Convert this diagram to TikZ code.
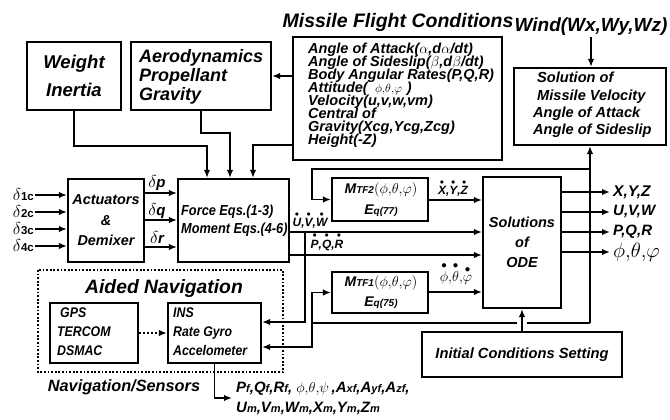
\documentclass[tikz,border=0pt]{standalone}
\usepackage{fontspec}
\usepackage{amsmath}
\setmainfont{Liberation Sans}
\newfontfamily\narrowf[FakeStretch=0.88]{Liberation Sans}
\usetikzlibrary{arrows.meta,calc}
\newcommand\fsz[2]{\fontsize{#1}{#2}\selectfont\lineskiplimit=-50pt\relax}
\newcommand\dotit[1]{$\overset{\bullet}{\text{#1}}$}
\newcommand\sm[1]{{\fontsize{11}{11}\selectfont #1}}
\newcommand\ptp{\phi{,}\theta{,}\varphi}
\begin{document}
\begin{tikzpicture}[x=1pt,y=-1pt,
  box/.style={draw,line width=2.2pt,rectangle,inner sep=0pt},
  conn/.style={line width=1.6pt},
  arr/.style={conn,-{Latex[length=8pt,width=6.5pt]}},
  lbl/.style={inner sep=1pt,font=\bfseries\itshape},
  txt/.style={inner sep=0pt,align=left,font=\bfseries\itshape}
]
\useasboundingbox[fill=white] (0,0) rectangle (670,420);

% ---------- boxes ----------
\node[box,minimum width=94pt,minimum height=68pt,align=center,font=\fsz{18.5}{28}\bfseries\itshape] (wi) at (74,76) {Weight\\Inertia};
\node[box,minimum width=140pt,minimum height=68pt] (aero) at (201,76) {};
\node[txt,anchor=north west,font=\fsz{18}{19}\bfseries\itshape] (aerot) at (139,49) {Aerodynamics\\Propellant\\Gravity};
\node[box,minimum width=209pt,minimum height=123pt] (mfc) at (397.5,98.5) {};
\node[txt,anchor=north west,font=\fsz{14.5}{12.9}\bfseries\itshape] (mfct) at (308,43) {Angle of Attack($\alpha$,d$\alpha$/dt)\\Angle of Sideslip($\beta$,d$\beta$/dt)\\Body Angular Rates(P,Q,R)\\Attitude(\,\,\,{\fontsize{11.5}{12.9}\selectfont$\ptp$}\,\,)\\Velocity(u,v,w,vm)\\Central of\\Gravity(Xcg,Ycg,Zcg)\\Height(-Z)};
\node[lbl,anchor=base,font=\fsz{19.5}{20}\bfseries\itshape] (mfctitle) at (398,28) {Missile Flight Conditions};
\node[lbl,anchor=base,font=\fsz{19}{20}\bfseries\itshape] (wind) at (591,32) {Wind(Wx,Wy,Wz)};
\node[box,minimum width=152pt,minimum height=77pt] (sol) at (590,106.5) {};
\node[txt,anchor=west,font=\fsz{14.6}{17.3}\bfseries\itshape] (solt) at (533,105) {\hspace*{4pt}Solution of\\\hspace*{4pt}Missile Velocity\\Angle of Attack\\Angle of Sideslip};

\node[box,minimum width=76pt,minimum height=83pt,align=center,font=\fsz{14.4}{20.5}\bfseries\itshape] (act) at (106,220.5) {Actuators\\\&\\Demixer};
\node[box,minimum width=111pt,minimum height=83pt] (force) at (233.5,220.5) {};
\node[txt,anchor=west,font=\fsz{14.5}{18}\narrowf\bfseries\itshape] (forcet) at (181,221) {Force Eqs.(1-3)\\Moment Eqs.(4-6)};

\node[box,minimum width=96pt,minimum height=43pt] (mtf2) at (380,199.5) {};
\node[lbl] (mtf2a) at (381,190) {\fsz{14}{16}M\fsz{10}{16}TF2\fsz{15}{16}$(\ptp)$};
\node[lbl] (mtf2b) at (381,211) {\fsz{14}{16}E\fsz{10}{16}q(77)};
\node[box,minimum width=96pt,minimum height=41pt] (mtf1) at (380,292.5) {};
\node[lbl] (mtf1a) at (381,283) {\fsz{14}{16}M\fsz{10}{16}TF1\fsz{15}{16}$(\ptp)$};
\node[lbl] (mtf1b) at (381,303) {\fsz{14}{16}E\fsz{10}{16}q(75)};

\node[box,minimum width=78pt,minimum height=131pt,align=center,font=\fsz{14.5}{20}\bfseries\itshape] (ode) at (522,242.5) {Solutions\\of\\ODE};
\node[box,minimum width=200pt,minimum height=45pt,font=\fsz{14.7}{16}\bfseries\itshape] (ic) at (522,354.5) {Initial Conditions Setting};

% ---------- aided navigation ----------
\draw[line width=1.5pt,dash pattern=on 1.8pt off 1.8pt] (38,270) rectangle (283,372);
\node[lbl,anchor=base,font=\fsz{19.3}{20}\bfseries\itshape] (navtitle) at (164,293) {Aided Navigation};
\node[box,minimum width=88pt,minimum height=60pt] (gps) at (94,333) {};
\node[txt,anchor=west,font=\fsz{14}{19}\narrowf\bfseries\itshape] (gpst) at (57,332) {\hspace*{3pt}GPS\\TERCOM\\DSMAC};
\node[box,minimum width=93pt,minimum height=60pt] (ins) at (214.5,333) {};
\node[txt,anchor=west,font=\fsz{14}{19}\narrowf\bfseries\itshape] (inst) at (173,332) {INS\\Rate Gyro\\Accelometer};
\node[lbl,anchor=base,font=\fsz{16.3}{18}\bfseries\itshape] (navsens) at (124,391) {Navigation/Sensors};
\node[txt,anchor=west,inner xsep=4pt,font=\fsz{15}{20}\bfseries\itshape] (navtext) at (232,398) {P\sm{f},Q\sm{f},R\sm{f}, $\phi{,}\theta{,}\psi$\,,A\sm{xf},A\sm{yf},A\sm{zf},\\U\sm{m},V\sm{m},W\sm{m},X\sm{m},Y\sm{m},Z\sm{m}};

% ---------- coordinates ----------
\coordinate (in1) at (35,195);
\coordinate (in2) at (35,212);
\coordinate (in3) at (35,229);
\coordinate (in4) at (35,246);
\coordinate (yp) at (0,193);
\coordinate (yq) at (0,220);
\coordinate (yr) at (0,247);
\coordinate (yuvw) at (0,232);
\coordinate (ypqr) at (0,255);
\coordinate (jUVW) at (305,232);
\coordinate (yXYZ) at (0,200);
\coordinate (yphi) at (0,292);
\coordinate (lpR) at (590,323);
\coordinate (lpL) at (312,323);
\coordinate (gapA) at (517,323);
\coordinate (gapB) at (527,323);
\coordinate (tpR) at (590,169);
\coordinate (tpL) at (312,169);

% ---------- inputs ----------
\foreach \i/\n in {in1/1,in2/2,in3/3,in4/4}{
  \draw[arr] (\i) -- (act.west |- \i);
  \node[anchor=east,inner sep=0pt] at ($(\i)+(-1,0)$) {\fsz{16.5}{16}$\delta$\fsz{11.5}{12}\bfseries\n c};
}
\draw[arr] (act.east |- yp) -- (force.west |- yp);
\draw[arr] (act.east |- yq) -- (force.west |- yq);
\draw[arr] (act.east |- yr) -- (force.west |- yr);
\node[lbl] at (157,183) {\fsz{18}{18}$\delta$\fsz{15}{16}p};
\node[lbl] at (157,211) {\fsz{18}{18}$\delta$\fsz{15}{16}q};
\node[lbl] at (157,237) {\fsz{18}{18}$\delta$\fsz{15}{16}r};

% ---------- top feeds ----------
\draw[arr] (wi.south) -- ++(0,35) -| ($(force.north)+(-26.5,0)$);
\draw[arr] (aero.south) -- ++(0,22) -| ($(force.north)+(-3.5,0)$);
\draw[arr] ($(mfc.west)+(0,46.5)$) -| ($(force.north)+(19.5,0)$);
\draw[arr] (mfc.west |- aero.east) -- (aero.east);
\draw[arr] (wind.south) -- (wind.south |- sol.north);

% ---------- force to ODE ----------
\draw[arr] (force.east |- yuvw) -- (ode.west |- yuvw);
\draw[arr] (force.east |- ypqr) -- (ode.west |- ypqr);
\node[lbl,font=\fsz{12}{12}\bfseries\itshape] at (310,220) {\dotit{U},\dotit{V},\dotit{W}};
\node[lbl,font=\fsz{12}{12}\bfseries\itshape] at (327,242) {\dotit{P},\dotit{Q},\dotit{R}};
\draw[arr] (jUVW) |- ($(ins.east)+(0,-11)$);

% ---------- MTF blocks ----------
\draw[arr] (mtf2.east |- yXYZ) -- (ode.west |- yXYZ);
\node[lbl,font=\fsz{12}{12}\bfseries\itshape] at (453,188) {\dotit{X},\dotit{Y},\dotit{Z}};
\draw[arr] (mtf1.east |- yphi) -- (ode.west |- yphi);
\node[lbl,font=\fsz{15}{15}] at (456,273) {$\overset{\bullet}{\phi}{,}\overset{\bullet}{\theta}{,}\overset{\bullet}{\varphi}$};

% ---------- feedback loops ----------
\draw[arr] (lpR) -- (sol.south);
\draw[conn] (lpR) -- (gapB);
\draw[conn] (gapA) -- (lpL);
\draw[arr] (lpL) |- (mtf1.west);
\draw[arr] (lpL) |- ($(ins.east)+(0,14)$);
\draw[arr] (tpR) -- (tpL) |- (mtf2.west);

% ---------- outputs ----------
\node[lbl,anchor=west,inner sep=3pt,font=\fsz{15.5}{16}\bfseries\itshape] (oxyz) at (610,192) {X,Y,Z};
\node[lbl,anchor=west,inner sep=3pt,font=\fsz{15}{16}\bfseries\itshape] (ouvw) at (610,212) {U,V,W};
\node[lbl,anchor=west,inner sep=3pt,font=\fsz{15}{16}\bfseries\itshape] (opqr) at (610,232) {P,Q,R};
\node[lbl,anchor=west,inner sep=3pt,font=\fsz{20}{20}] (ophi) at (610,252) {$\ptp$};
\draw[arr] (ode.east |- oxyz.west) -- (oxyz.west);
\draw[arr] (ode.east |- ouvw.west) -- (ouvw.west);
\draw[arr] (ode.east |- opqr.west) -- (opqr.west);
\draw[arr] (ode.east |- ophi.west) -- (ophi.west);

% ---------- initial conditions ----------
\draw[arr] (ic.north) -- (ode.south);

% ---------- navigation ----------
\draw[arr,dash pattern=on 2pt off 2pt] (gps.east) -- (ins.west);
\draw[arr] (ins.south) |- (navtext.west);
\end{tikzpicture}
\end{document}
